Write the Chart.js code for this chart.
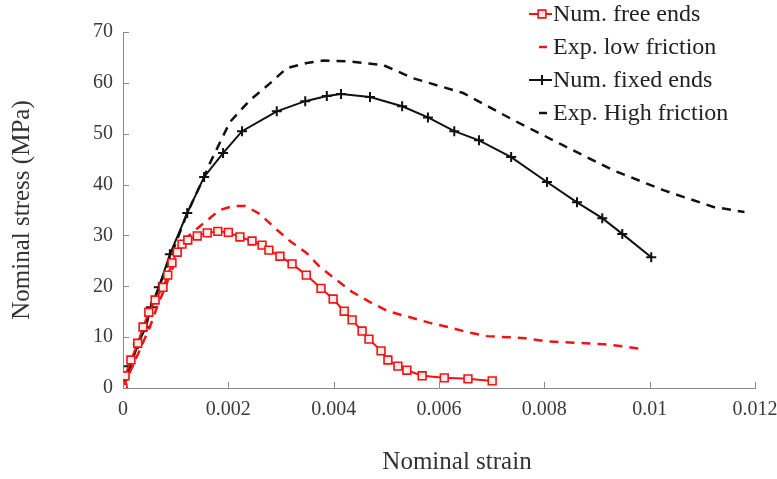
<!DOCTYPE html>
<html><head><meta charset="utf-8">
<script src="https://cdn.jsdelivr.net/npm/chart.js@4/dist/chart.umd.min.js"></script>
<style>html,body{margin:0;padding:0;background:#fff}</style>
</head><body>
<canvas id="c" width="777" height="479"></canvas>
<script>
// ---- data (strain, stress in MPa) ----
const seriesNames = ["Num. free ends", "Exp. low friction", "Num. fixed ends", "Exp. High friction"];
const xAxisTitle = "Nominal strain";
const yAxisTitle = "Nominal stress (MPa)";

const freeStrain = [0, 0.00004, 0.00015, 0.00028, 0.00038, 0.00049, 0.00061, 0.00076, 0.00085, 0.00093, 0.00103, 0.00112, 0.00123, 0.00141, 0.0016, 0.0018, 0.002, 0.00222, 0.00245, 0.00264, 0.00277, 0.00298, 0.00321, 0.00348, 0.00376, 0.00399, 0.0042, 0.00435, 0.00454, 0.00467, 0.0049, 0.00503, 0.00522, 0.00539, 0.00568, 0.0061, 0.00655, 0.00701];
const freeStress = [0, 2.4, 5.5, 8.8, 12.0, 14.9, 17.3, 19.8, 22.2, 24.6, 26.7, 28.3, 29.1, 29.9, 30.5, 30.8, 30.6, 29.7, 28.9, 28.1, 27.1, 25.9, 24.4, 22.2, 19.6, 17.5, 15.1, 13.4, 11.2, 9.6, 7.3, 5.5, 4.3, 3.5, 2.4, 2.0, 1.8, 1.4];

const lowStrain = [0, 0.00013, 0.00032, 0.00051, 0.00066, 0.0008, 0.00093, 0.00103, 0.00122, 0.00146, 0.0016, 0.00184, 0.00209, 0.00232, 0.0026, 0.00289, 0.00317, 0.00349, 0.00374, 0.00406, 0.00435, 0.00469, 0.00503, 0.00545, 0.00583, 0.00617, 0.00653, 0.00691, 0.00729, 0.00764, 0.00802, 0.0084, 0.00877, 0.00915, 0.00957, 0.00982];
const lowStress = [0, 3.1, 7.5, 12.0, 16.3, 19.8, 23.2, 26.1, 29.7, 31.8, 33.0, 35.0, 35.8, 35.8, 34.2, 31.4, 28.9, 26.5, 23.8, 21.2, 18.9, 16.9, 15.1, 13.9, 12.8, 12.0, 11.0, 10.2, 10.0, 9.8, 9.2, 9.0, 8.8, 8.6, 8.1, 7.7];

const fixedStrain = [0, 0.00011, 0.00028, 0.00044, 0.00053, 0.00068, 0.00089, 0.00122, 0.00154, 0.0019, 0.00226, 0.00292, 0.00346, 0.00387, 0.00414, 0.00469, 0.0053, 0.00579, 0.00629, 0.00676, 0.00737, 0.00805, 0.00862, 0.0091, 0.00948, 0.01003];
const fixedStress = [0, 4.3, 8.6, 12.0, 15.9, 19.8, 26.3, 34.4, 41.5, 46.2, 50.5, 54.4, 56.4, 57.4, 57.8, 57.2, 55.4, 53.2, 50.5, 48.7, 45.4, 40.5, 36.5, 33.4, 30.3, 25.7];

const highStrain = [0, 0.00028, 0.00068, 0.00122, 0.00154, 0.00165, 0.00203, 0.00241, 0.00279, 0.00311, 0.00349, 0.0038, 0.00431, 0.00494, 0.00551, 0.00646, 0.00741, 0.00836, 0.00931, 0.01026, 0.01121, 0.0118];
const highStress = [0, 8.6, 19.8, 34.4, 41.5, 44.2, 52.3, 56.6, 59.9, 62.9, 63.9, 64.4, 64.2, 63.5, 60.9, 58.0, 52.7, 47.7, 42.8, 38.9, 35.6, 34.6];

const xTickValues = [0, 0.002, 0.004, 0.006, 0.008, 0.01, 0.012];
const xTickLabels = ["0", "0.002", "0.004", "0.006", "0.008", "0.01", "0.012"];
const yTickValues = [0, 10, 20, 30, 40, 50, 60, 70];
const yTickLabels = ["0", "10", "20", "30", "40", "50", "60", "70"];

// ---- styling ----
const RED = 'rgb(240,20,20)';
const BLACK = '#111';
const AXIS = '#8a8a8a';
const SERIF = "'Liberation Serif', 'DejaVu Serif', serif";

function pts(xs, ys) { return xs.map((x, i) => ({x: x, y: ys[i]})); }

const inwardTicks = {
  id: 'inwardTicks',
  afterDraw(chart) {
    const ctx = chart.ctx, xs = chart.scales.x, ys = chart.scales.y;
    ctx.save();
    ctx.strokeStyle = AXIS; ctx.lineWidth = 1;
    xTickValues.forEach(v => {
      const px = Math.round(xs.getPixelForValue(v)) + 0.5;
      ctx.beginPath(); ctx.moveTo(px, ys.bottom); ctx.lineTo(px, ys.bottom - 6); ctx.stroke();
    });
    yTickValues.forEach(v => {
      const py = Math.round(ys.getPixelForValue(v)) + 0.5;
      ctx.beginPath(); ctx.moveTo(xs.left, py); ctx.lineTo(xs.left + 6, py); ctx.stroke();
    });
    // x axis title (slightly right of the plot centre, as in the original)
    ctx.fillStyle = '#333';
    ctx.font = "25px " + SERIF;
    ctx.textAlign = 'center';
    ctx.textBaseline = 'middle';
    ctx.fillText(xAxisTitle, (xs.left + xs.right) / 2 + 18, 462);
    ctx.restore();
  }
};

const customLegend = {
  id: 'customLegend',
  afterDraw(chart) {
    const ctx = chart.ctx;
    ctx.save();
    chart.data.datasets.forEach((ds, i) => {
      const y = 14 + 33 * i;
      ctx.strokeStyle = ds.borderColor;
      ctx.lineWidth = ds.borderWidth;
      ctx.setLineDash([]);
      if (ds.borderDash && ds.borderDash.length) {
        ctx.beginPath(); ctx.moveTo(539, y); ctx.lineTo(547, y); ctx.stroke();
      } else {
        ctx.beginPath(); ctx.moveTo(529, y); ctx.lineTo(552, y); ctx.stroke();
        ctx.fillStyle = ds.pointBackgroundColor;
        ctx.strokeStyle = ds.pointBorderColor;
        ctx.lineWidth = ds.pointBorderWidth;
        ctx.beginPath();
        if (ds.pointStyle === 'rect') {
          const s = Math.SQRT1_2 * ds.pointRadius;
          ctx.rect(542 - s, y - s, 2 * s, 2 * s); ctx.fill(); ctx.stroke();
        } else {
          ctx.moveTo(542, y - ds.pointRadius); ctx.lineTo(542, y + ds.pointRadius);
          ctx.moveTo(542 - ds.pointRadius, y); ctx.lineTo(542 + ds.pointRadius, y); ctx.stroke();
        }
      }
      ctx.fillStyle = '#222';
      ctx.font = "24px " + SERIF;
      ctx.textBaseline = 'middle';
      ctx.textAlign = 'left';
      ctx.fillText(seriesNames[i], 553, y + 1);
    });
    ctx.restore();
  }
};

new Chart(document.getElementById('c'), {
  type: 'scatter',
  data: {
    datasets: [
      { label: seriesNames[0], data: pts(freeStrain, freeStress), showLine: true,
        borderColor: RED, borderWidth: 2, pointStyle: 'rect', pointRadius: 5.5,
        pointBorderColor: RED, pointBackgroundColor: 'rgba(255,235,235,1)', pointBorderWidth: 1.6 },
      { label: seriesNames[1], data: pts(lowStrain, lowStress), showLine: true,
        borderColor: RED, borderWidth: 2.5, borderDash: [9, 7], pointRadius: 0 },
      { label: seriesNames[2], data: pts(fixedStrain, fixedStress), showLine: true,
        borderColor: BLACK, borderWidth: 2, pointStyle: 'cross', pointRadius: 5,
        pointBorderColor: BLACK, pointBackgroundColor: BLACK, pointBorderWidth: 2 },
      { label: seriesNames[3], data: pts(highStrain, highStress), showLine: true,
        borderColor: BLACK, borderWidth: 2.5, borderDash: [9, 7], pointRadius: 0 }
    ]
  },
  options: {
    responsive: false,
    animation: false,
    events: [],
    layout: { padding: { top: 32, right: 22, left: 0, bottom: 0 } },
    plugins: { legend: { display: false }, tooltip: { enabled: false } },
    scales: {
      x: {
        type: 'linear', min: 0, max: 0.012,
        afterBuildTicks: s => { s.ticks = xTickValues.map(v => ({value: v})); },
        afterFit: s => { s.height = 91; s.paddingRight = 0; s.paddingLeft = 0; },
        grid: { display: false, drawTicks: false },
        border: { display: true, color: AXIS, width: 1 },
        ticks: { padding: 10, color: '#3a3a3a', font: { family: SERIF, size: 20 },
                 maxRotation: 0, autoSkip: false,
                 callback: (v, i) => xTickLabels[i] },
        title: { display: false, text: xAxisTitle }
      },
      y: {
        type: 'linear', min: 0, max: 70,
        afterBuildTicks: s => { s.ticks = yTickValues.map(v => ({value: v})); },
        afterFit: s => { s.width = 123; s.paddingTop = 0; s.paddingBottom = 0; },
        grid: { display: false, drawTicks: false },
        border: { display: true, color: AXIS, width: 1 },
        ticks: { padding: 10, color: '#3a3a3a', font: { family: SERIF, size: 20 },
                 autoSkip: false, callback: (v, i) => yTickLabels[i] },
        title: { display: true, text: yAxisTitle, color: '#333',
                 font: { family: SERIF, size: 25 }, padding: { top: 7, bottom: 0 } }
      }
    }
  },
  plugins: [inwardTicks, customLegend]
});
</script>
</body></html>
